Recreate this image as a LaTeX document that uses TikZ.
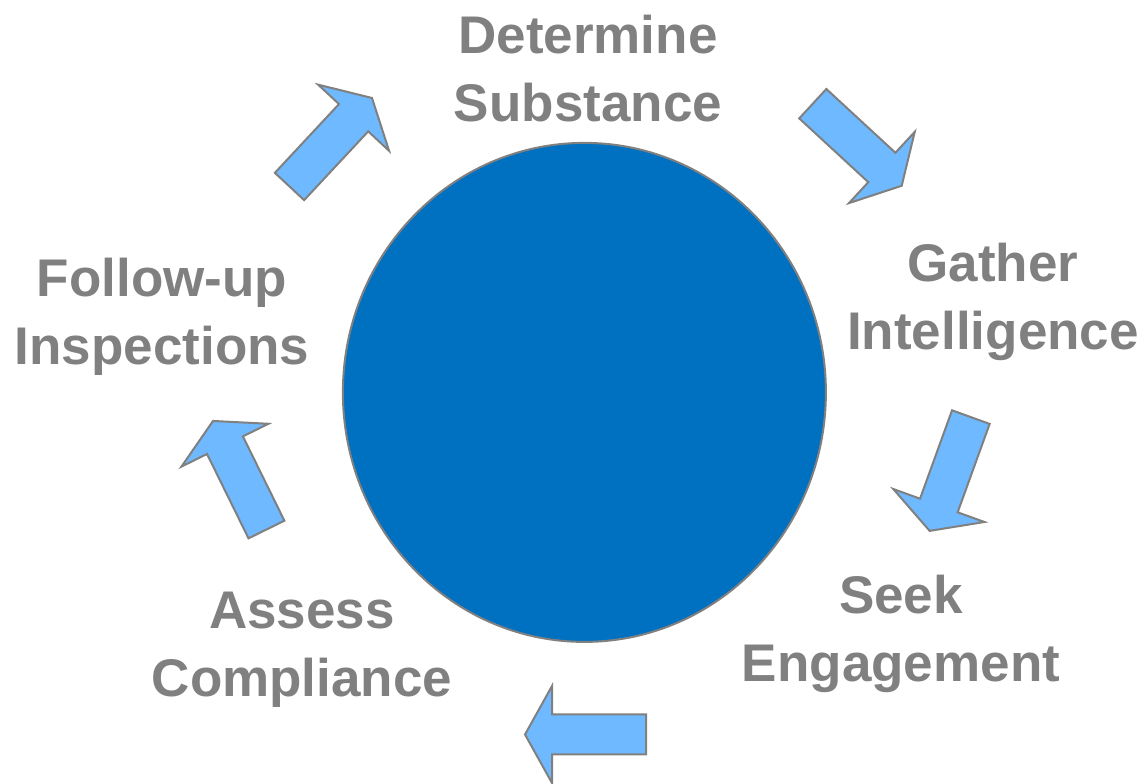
\documentclass[tikz,border=0pt]{standalone}
\usepackage{fontspec}
\setmainfont{Liberation Sans}
\usetikzlibrary{shapes.geometric}
\definecolor{HubBlue}{RGB}{0,112,192}
\definecolor{StepBlue}{RGB}{110,185,255}
\definecolor{EdgeGray}{RGB}{128,128,128}
\tikzset{
  cyclearrow/.pic={
    \draw[arrowbody] (-60.5,-20) -- (33.5,-20) -- (33.5,-48.5) -- (60.5,0)
      -- (33.5,48.5) -- (33.5,20) -- (-60.5,20) -- cycle;
  }
}

\begin{document}
\begin{tikzpicture}[x=1pt, y=1pt,
    arrowbody/.style={fill=StepBlue, draw=EdgeGray, line width=2pt, line join=miter},
    steplabel/.style={text=EdgeGray, font=\bfseries\fontsize{53}{68}\selectfont,
                      align=center, anchor=base, inner sep=0pt}]
      \useasboundingbox (0,0) rectangle (1144,784);
      % hub
      \node[ellipse, fill=HubBlue, draw=EdgeGray, line width=2pt,
            minimum width=483, minimum height=499] (hub) at (584.4,391.6) {};
      % labels (anchored at the baseline of the last line)
      \node[steplabel] (determine) at (588,662) {Determine\\Substance};
      \node[steplabel] (gather)    at (993,434) {Gather\\Intelligence};
      \node[steplabel] (seek)      at (901,102) {Seek\\Engagement};
      \node[steplabel] (assess)    at (302,87)  {Assess\\Compliance};
      \node[steplabel] (followup)  at (162,419) {Follow-up\\Inspections};
      % arrows
      \pic[rotate=47]     at (330.75,641.75) {cyclearrow};
      \pic[rotate=-42.7]  at (857.25,639.25) {cyclearrow};
      \pic[rotate=-109.9] at (950.25,310)    {cyclearrow};
      \pic[rotate=180]    at (585.5,49.5)    {cyclearrow};
      \pic[rotate=116.2]  at (239.75,308.75) {cyclearrow};
\end{tikzpicture}
\end{document}
